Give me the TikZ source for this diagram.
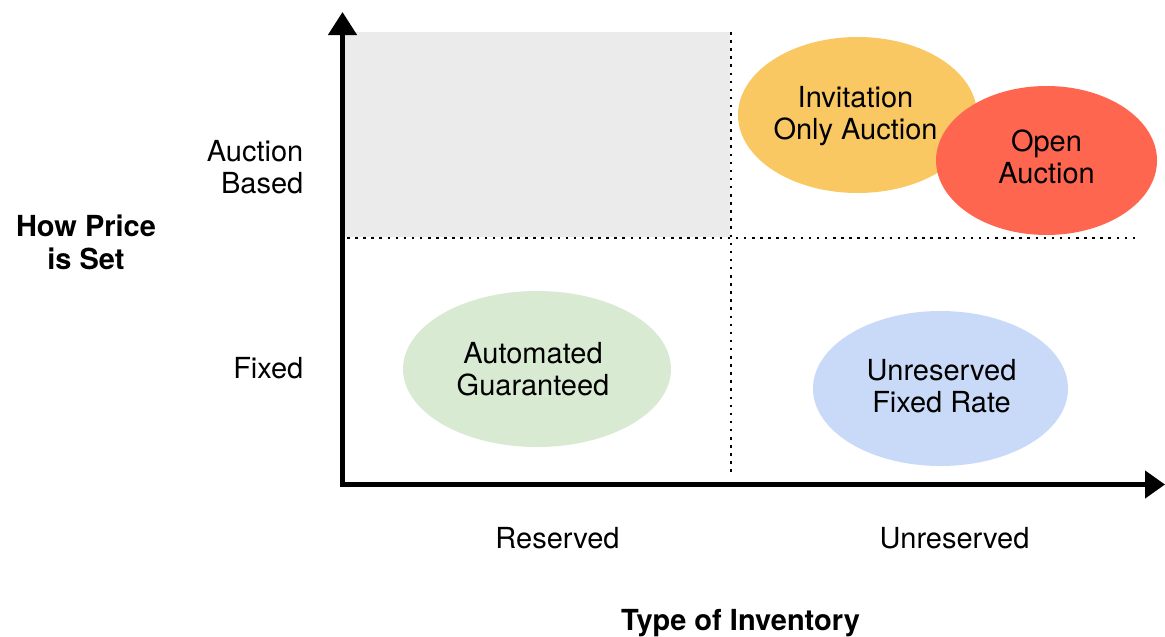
\documentclass[tikz,border=0pt]{standalone}
\usepackage{fontspec}
\setmainfont{TeX Gyre Heros}
\usetikzlibrary{arrows.meta,shapes.geometric}

\definecolor{quadgray}{RGB}{235,235,235}
\definecolor{invyellow}{RGB}{249,200,98}
\definecolor{openred}{RGB}{255,102,80}
\definecolor{autogreen}{RGB}{217,234,211}
\definecolor{fixblue}{RGB}{201,218,248}

\tikzset{
  txt/.style={inner sep=0pt, align=center, font=\fontsize{29}{32}\selectfont,
    execute at begin node=\strut, execute at end node=\strut},
  title/.style={txt, font=\fontsize{29}{33}\selectfont\bfseries},
  blob/.style={ellipse, draw=none, inner sep=0pt},
  axis/.style={line width=4.5pt, line join=miter, {Triangle[width=28pt,length=23pt]}-{Triangle[width=27pt,length=20pt]}},
  grid/.style={line width=2.5pt, dash pattern=on 2.5pt off 5.6pt}
}

\begin{document}
\begin{tikzpicture}[x=1pt, y=-1pt]
  \useasboundingbox (0,0) rectangle (1165,637);

  % shaded quadrant
  \fill[quadgray] (345,32) rectangle (730,237);

  % quadrant dividers
  \coordinate (vtop) at (731,32);
  \coordinate (vbot) at (731,475);
  \coordinate (hleft) at (347,238);
  \coordinate (hright) at (1137,238);
  \draw[grid] (vtop) -- (vbot);
  \draw[grid] (hleft) -- (hright);

  % axes
  \coordinate (ytip) at (342.5,12);
  \coordinate (origin) at (342.5,484.5);
  \coordinate (xtip) at (1165,484.5);
  \draw[axis] (ytip) -- (origin) -- (xtip);

  % pricing models
  \node[blob, fill=invyellow, minimum width=239pt, minimum height=156pt] (inv) at (857.5,115) {};
  \node[blob, fill=openred, minimum width=221pt, minimum height=149pt] (open) at (1046.5,160.5) {};
  \node[blob, fill=autogreen, minimum width=268pt, minimum height=156pt] (auto) at (537,369) {};
  \node[blob, fill=fixblue, minimum width=255pt, minimum height=155pt] (fix) at (940.5,388.5) {};

  \node[txt] (invtxt) at (855.5,118) {Invitation\\Only Auction};
  \node[txt] (opentxt) at (1046.5,161.5) {Open\\Auction};
  \node[txt] (autotxt) at (533,373.5) {Automated\\Guaranteed};
  \node[txt] (fixtxt) at (941.5,390.5) {Unreserved\\Fixed Rate};

  % axis labels
  \node[txt, align=right, anchor=east] (auctionbased) at (303.5,171.5) {Auction\\Based};
  \node[txt, align=right, anchor=east] (fixed) at (303.5,372.3) {Fixed};
  \node[title] (ytitle) at (86,247.5) {How Price\\is Set};

  \node[txt] (reserved) at (557.5,542.3) {Reserved};
  \node[txt] (unreserved) at (954.5,542.3) {Unreserved};
  \node[title] (xtitle) at (740.5,624.3) {Type of Inventory};
\end{tikzpicture}
\end{document}
